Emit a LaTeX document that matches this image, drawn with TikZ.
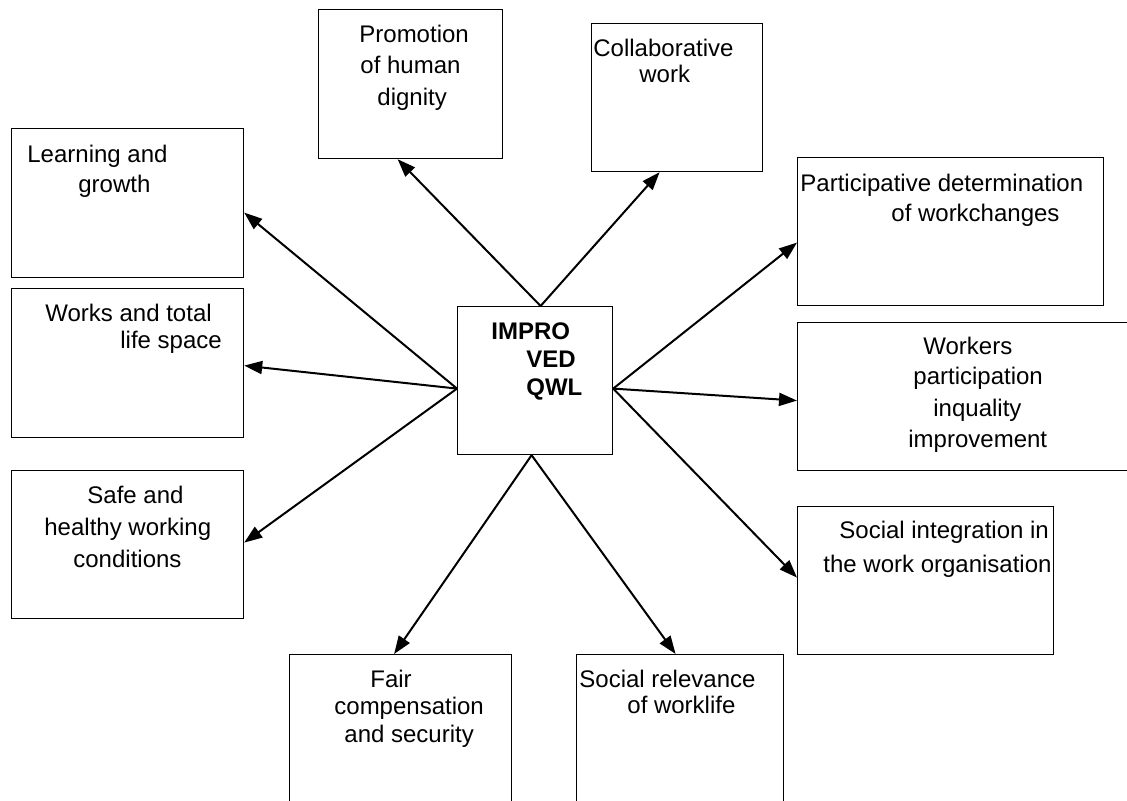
\documentclass[tikz,border=0pt]{standalone}
\usepackage{fontspec}
\setmainfont{Liberation Sans}
\usetikzlibrary{arrows.meta}
\tikzset{
	box/.style={draw, line width=0.6pt, inner sep=0pt, anchor=north west},
	txt/.style={anchor=base west, inner sep=0pt, font=\fontsize{12}{14}\selectfont},
	link/.style={line width=1pt, -{Triangle[length=9pt,width=6.5pt]}}
}
\begin{document}
\begin{tikzpicture}[x=0.5pt,y=-0.5pt]
	\useasboundingbox (0,0) rectangle (1127,801);
	\clip (0,0) rectangle (1127,801);
	% Draw the boxes
	\node[box, minimum width=77.5pt, minimum height=74pt] (qwl) at (457,306) {};
	\node[box, minimum width=92pt, minimum height=74.5pt] (prom) at (318,9) {};
	\node[box, minimum width=85.5pt, minimum height=74pt] (collab) at (591,23) {};
	\node[box, minimum width=116pt, minimum height=74.5pt] (learn) at (11,128) {};
	\node[box, minimum width=116pt, minimum height=74.5pt] (works) at (11,288) {};
	\node[box, minimum width=116pt, minimum height=74pt] (safe) at (11,470) {};
	\node[box, minimum width=153pt, minimum height=74pt] (part) at (797,157) {};
	\node[box, minimum width=171.5pt, minimum height=74pt] (workers) at (797,322) {};
	\node[box, minimum width=128pt, minimum height=74pt] (social) at (797,506) {};
	\node[box, minimum width=111pt, minimum height=85pt] (fair) at (289,654) {};
	\node[box, minimum width=103.5pt, minimum height=85pt] (relev) at (576,654) {};
	% Add the labels
	\node[txt, font=\fontsize{12}{14}\selectfont\bfseries] (qwlA) at (491,340) {IMPRO};
	\node[txt, font=\fontsize{12}{14}\selectfont\bfseries] (qwlB) at (526,368) {VED};
	\node[txt, font=\fontsize{12}{14}\selectfont\bfseries] (qwlC) at (526,395) {QWL};
	\node[txt] (promA) at (359,43) {Promotion};
	\node[txt] (promB) at (360,74) {of human};
	\node[txt] (promC) at (377,106) {dignity};
	\node[txt] (collabA) at (593,57) {Collaborative};
	\node[txt] (collabB) at (639,83) {work};
	\node[txt] (learnA) at (27,163) {Learning and};
	\node[txt] (learnB) at (78,193) {growth};
	\node[txt] (worksA) at (45,322) {Works and total};
	\node[txt] (worksB) at (120,349) {life space};
	\node[txt] (safeA) at (87,503) {Safe and};
	\node[txt] (safeB) at (44,535) {healthy working};
	\node[txt] (safeC) at (73,567) {conditions};
	\node[txt] (partA) at (800,192) {Participative determination};
	\node[txt] (partB) at (891,222) {of workchanges};
	\node[txt] (workersA) at (923,355) {Workers};
	\node[txt] (workersB) at (913,385) {participation};
	\node[txt] (workersC) at (933,416) {inquality};
	\node[txt] (workersD) at (908,447) {improvement};
	\node[txt] (socialA) at (839,538) {Social integration in};
	\node[txt] (socialB) at (823,572) {the work organisation};
	\node[txt] (fairA) at (370,687) {Fair};
	\node[txt] (fairB) at (334,714) {compensation};
	\node[txt] (fairC) at (344,742) {and security};
	\node[txt] (relevA) at (579,687) {Social relevance};
	\node[txt] (relevB) at (627,713) {of worklife};
	% Draw the arrows
	\draw[link] ([xshift=2.75pt]qwl.north) -- ([xshift=-6.5pt]prom.south);
	\draw[link] ([xshift=2.75pt]qwl.north) -- ([xshift=-8.75pt]collab.south);
	\draw[link] ([yshift=-4pt]qwl.west) -- ([yshift=-4.75pt]learn.east);
	\draw[link] ([yshift=-4pt]qwl.west) -- ([yshift=-1.25pt]works.east);
	\draw[link] ([yshift=-4pt]qwl.west) -- ([yshift=1pt]safe.east);
	\draw[link] ([yshift=-4pt]qwl.east) -- ([yshift=-5.5pt]part.west);
	\draw[link] ([yshift=-4pt]qwl.east) -- ([yshift=-2pt]workers.west);
	\draw[link] ([yshift=-4pt]qwl.east) -- ([yshift=1.5pt]social.west);
	\draw[link] ([xshift=-1.75pt]qwl.south) -- ([xshift=-3.25pt]fair.north);
	\draw[link] ([xshift=-1.75pt]qwl.south) -- ([xshift=-2.25pt]relev.north);
\end{tikzpicture}
\end{document}
